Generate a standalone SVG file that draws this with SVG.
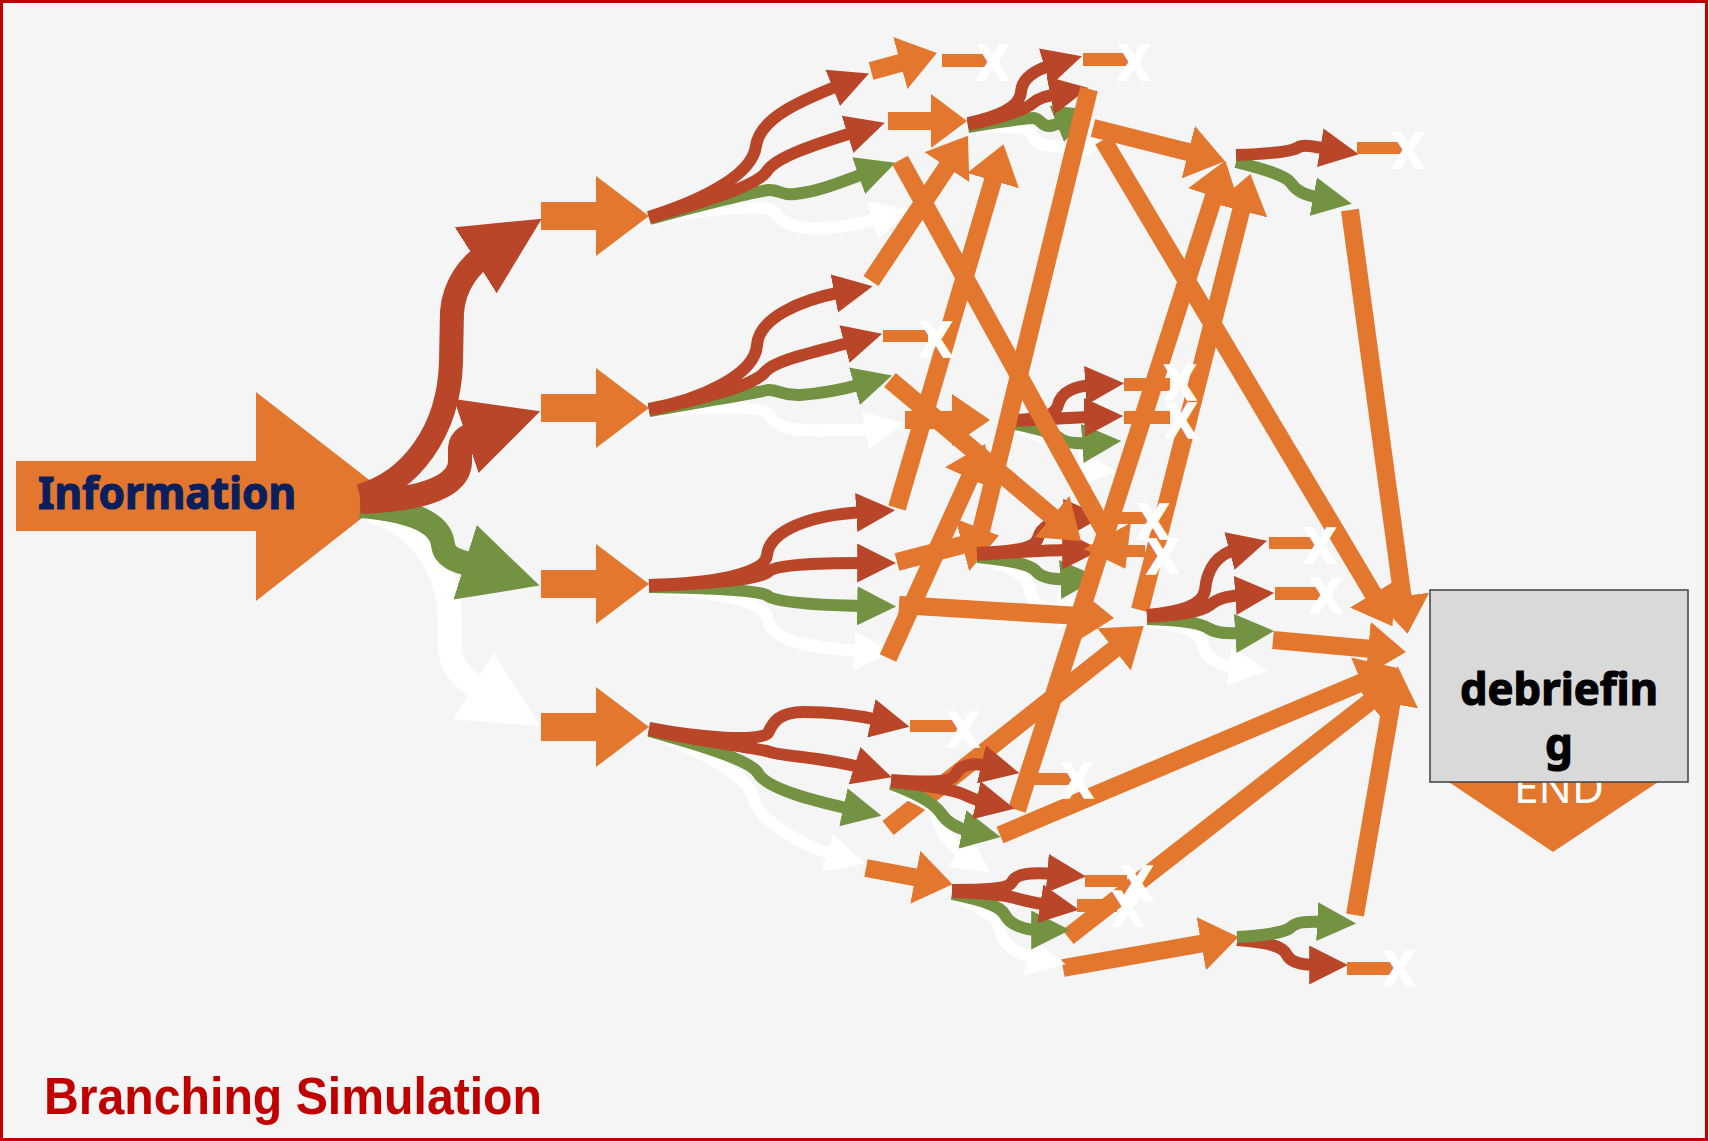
<svg xmlns="http://www.w3.org/2000/svg" width="1709" height="1142" viewBox="0 0 1709 1142">
<defs>
<style>
.o{fill:#E4772E}
.cr,.cg,.cw{fill:none;stroke-linecap:butt;stroke-width:12}
.cr{stroke:#B94628;marker-end:url(#hr)}
.cg{stroke:#739343;marker-end:url(#hg)}
.cw{stroke:#FFFFFF;marker-end:url(#hw)}
.big{stroke-width:24}
.ln{fill:none;stroke:#E4772E;stroke-width:18;marker-end:url(#ho)}
.lnb{fill:none;stroke:#E4772E;stroke-width:18}
.x{font-family:"Noto Sans","DejaVu Sans",sans-serif;font-weight:700;font-size:48px;fill:#FFFFFF;stroke:#FFFFFF;stroke-width:1.5;text-anchor:middle}
</style>
<marker id="hr" viewBox="0 0 10 10" refX="2" refY="5" markerWidth="3.25" markerHeight="3.25" orient="auto" markerUnits="strokeWidth" preserveAspectRatio="none"><path d="M0,0L10,5L0,10z" fill="#B94628"/></marker>
<marker id="hg" viewBox="0 0 10 10" refX="2" refY="5" markerWidth="3.25" markerHeight="3.25" orient="auto" markerUnits="strokeWidth" preserveAspectRatio="none"><path d="M0,0L10,5L0,10z" fill="#739343"/></marker>
<marker id="hw" viewBox="0 0 10 10" refX="2" refY="5" markerWidth="3.25" markerHeight="3.25" orient="auto" markerUnits="strokeWidth" preserveAspectRatio="none"><path d="M0,0L10,5L0,10z" fill="#FFFFFF"/></marker>
<marker id="ho" viewBox="0 0 10 10" refX="1" refY="5" markerWidth="2.1" markerHeight="3" orient="auto" markerUnits="strokeWidth" preserveAspectRatio="none"><path d="M0,0L10,5L0,10z" fill="#E4772E"/></marker>
</defs>

<rect x="0" y="0" width="1709" height="1142" fill="#F5F5F5"/>

<!-- start node -->
<g id="information">
<polygon class="o" points="16,461 256,461 256,392 390,496 256,601 256,531 16,531"/>
<text x="38" y="509" font-family="'Noto Sans','DejaVu Sans',sans-serif" font-weight="700" font-size="44" fill="#0A1F5C" stroke="#0A1F5C" stroke-width="1.2" textLength="258" lengthAdjust="spacingAndGlyphs">Information</text>
</g>

<!-- first-level choice nodes -->
<g id="choice-1"><polygon class="o" points="541,202 596,202 596,176 649,216 596,256 596,230 541,230"/></g>
<g id="choice-2"><polygon class="o" points="541,394 596,394 596,368 649,408 596,448 596,422 541,422"/></g>
<g id="choice-3"><polygon class="o" points="541,570 596,570 596,544 649,584 596,624 596,598 541,598"/></g>
<g id="choice-4"><polygon class="o" points="541,713 596,713 596,687 649,727 596,767 596,741 541,741"/></g>

<!-- branches out of the start node and the first-level nodes -->
<g id="connectors-level1">
<path class="cw big" d="M370,510 C420,525 450,570 450,620 L450,650 C452,672 472,685 487,694"/>
<path class="cg big" d="M360,506 C410,510 441,522 443,545 C445,561 464,562 480,567"/>
<path class="cr big" d="M360,502 C418,500 459,488 460,462 L460,448 C461,438 469,435 481,431"/>
<path class="cr big" d="M360,496 C410,482 449,432 451,362 L452,312 C454,285 470,264 489,252"/>

<path class="cw" d="M650,220 C710,208 765,204 775,212 C784,226 800,230 830,228 C852,226 866,222 880,218"/>
<path class="cg" d="M650,219 C700,205 755,192 768,190 C779,189 781,196 795,194 C822,191 846,180 866,173"/>
<path class="cr" d="M649,218 C700,203 758,186 767,171 C777,156 820,143 855,132"/>
<path class="cr" d="M649,217 C700,201 752,176 756,146 C760,118 800,101 840,85"/>

<path class="cw" d="M650,412 C710,406 765,405 770,415 C775,428 800,432 830,430 C850,429 862,431 873,429"/>
<path class="cg" d="M649,411 C700,402 755,393 768,390 C778,389 781,396 800,395 C830,393 848,388 862,384"/>
<path class="cr" d="M649,410 C700,400 755,385 765,372 C775,360 815,352 852,342"/>
<path class="cr" d="M649,409 C700,400 755,375 757,345 C759,318 800,300 842,292"/>

<path class="cw" d="M649,588 C715,592 765,600 768,620 C772,640 810,648 862,651"/>
<path class="cg" d="M649,587 C710,588 760,590 768,596 C776,602 810,605 865,606"/>
<path class="cr" d="M649,586 C710,584 760,580 768,572 C775,565 810,563 865,563"/>
<path class="cr" d="M649,585 C710,583 765,575 767,555 C770,530 810,515 864,512"/>

<path class="cw" d="M649,732 C700,750 748,775 753,797 C758,820 800,845 835,855"/>
<path class="cg" d="M649,731 C700,745 750,760 758,773 C766,788 810,800 851,809"/>
<path class="cr" d="M649,730 C700,742 760,748 770,752 C780,756 830,758 862,768"/>
<path class="cr" d="M649,728 C700,738 760,742 768,733 C773,722 779,712 804,712 C830,712 856,715 879,720"/>
</g>

<!-- second-level nodes -->
<g id="step-a1"><path class="ln" d="M871,71 L904,62"/></g>
<g id="step-a2"><polygon class="o" points="888,112 931,112 931,94 967,121 931,148 931,130 888,130"/></g>
<g id="step-b2"><polygon class="o" points="905,411 952,411 952,394 990,420 952,446 952,429 905,429"/></g>
<g id="step-c2"><path class="ln" d="M897,562 L966,544"/></g>
<g id="step-d4"><path class="ln" d="M866,868 L919,878"/></g>

<!-- branches out of the second-level nodes -->
<g id="connectors-level2">
<path class="cw" d="M968,128 C1000,126 1025,125 1030,132 C1035,145 1045,148 1075,146"/>
<path class="cg" d="M968,127 C1000,122 1025,118 1033,118 C1041,118 1041,127 1050,126 C1055,125 1059,123 1064,121"/>
<path class="cr" d="M968,125 C1000,118 1025,110 1033,103 C1040,97 1048,96 1058,94"/>
<path class="cr" d="M968,123 C995,117 1020,108 1021,92 C1022,78 1035,70 1052,65"/>

<path class="cw" d="M1006,423 C1035,432 1050,440 1055,450 C1060,462 1072,468 1085,469"/>
<path class="cg" d="M1006,422 C1035,428 1052,432 1058,437 C1064,443 1075,444 1090,443"/>
<path class="cr" d="M1006,421 C1040,420 1060,418 1092,417"/>
<path class="cr" d="M1006,420 C1035,420 1055,418 1058,405 C1061,392 1075,386 1093,385"/>

<path class="cw" d="M977,559 C1010,565 1028,575 1030,590 C1032,605 1045,610 1065,610"/>
<path class="cg" d="M977,557 C1010,560 1030,565 1035,570 C1040,577 1050,580 1068,579"/>
<path class="cr" d="M977,555 C1010,553 1040,550 1070,550"/>
<path class="cr" d="M977,553 C1005,552 1035,550 1038,538 C1041,526 1055,519 1072,518"/>
</g>

<!-- long links between branches -->
<g id="connectors-links">
<path class="lnb" d="M1089,89 L980,535"/>
<path class="ln" d="M1093,128 L1192,153"/>
<path class="ln" d="M1103,140 L1375,597"/>
<path class="ln" d="M900,160 L1109,539"/>
<path class="ln" d="M871,281 L949,164"/>
<path class="ln" d="M897,508 L994,177"/>
<path class="ln" d="M890,380 L1055,519"/>
<path class="ln" d="M888,658 L971,475"/>
<path class="ln" d="M888,828 L1117,647"/>
<path class="ln" d="M1017,810 L1215,193"/>
<path class="ln" d="M1140,610 L1242,207"/>
<path class="ln" d="M1000,835 L1365,681"/>
<path class="ln" d="M1068,937 L1372,700"/>
<path class="ln" d="M1355,915 L1392,700"/>
<path class="ln" d="M1350,210 L1403,600"/>
<path class="ln" d="M1273,640 L1372,649"/>
<path class="ln" d="M899,605 L1080,616"/>
<path class="ln" d="M1063,968 L1205,943"/>
</g>

<!-- branches out of the later nodes -->
<g id="connectors-level3">
<path class="cw" d="M1147,621 C1180,625 1200,630 1203,645 C1206,660 1220,665 1237,667"/>
<path class="cg" d="M1147,619 C1180,620 1200,623 1208,628 C1215,633 1228,634 1243,633"/>
<path class="cr" d="M1147,617 C1180,615 1200,612 1210,605 C1218,598 1228,596 1243,595"/>
<path class="cr" d="M1147,615 C1180,612 1203,605 1205,590 C1207,570 1215,555 1237,549"/>

<path class="cg" d="M1236,162 C1260,168 1285,175 1291,183 C1297,192 1305,195 1321,198"/>
<path class="cr" d="M1236,155 C1265,154 1290,152 1297,148 C1303,144 1310,146 1328,149"/>

<path class="cw" d="M891,786 C915,798 935,805 937,815 C939,830 950,845 965,855"/>
<path class="cg" d="M891,784 C920,795 935,805 940,812 C945,820 955,828 970,831"/>
<path class="cr" d="M891,782 C925,785 950,790 960,793 C968,796 975,800 984,802"/>
<path class="cr" d="M891,780 C920,782 950,784 955,775 C960,765 972,762 989,766"/>

<path class="cw" d="M952,896 C975,905 998,915 1000,930 C1002,945 1020,955 1035,958"/>
<path class="cg" d="M952,894 C980,900 1000,905 1005,915 C1010,925 1025,930 1039,930"/>
<path class="cr" d="M952,892 C985,893 1005,895 1015,898 C1025,901 1035,903 1048,905"/>
<path class="cr" d="M952,890 C985,890 1008,890 1012,882 C1016,874 1030,872 1055,874"/>

<path class="cr" d="M1237,940 C1265,942 1283,945 1287,955 C1291,963 1303,965 1317,965"/>
<path class="cg" d="M1237,937 C1260,936 1283,933 1290,928 C1296,922 1305,921 1325,922"/>
</g>

<!-- dead ends -->
<g id="end-01"><rect class="o" x="942" y="54" width="46" height="13"/><text class="x" x="993" y="80">X</text></g>
<g id="end-02"><rect class="o" x="1083" y="53" width="45" height="13"/><text class="x" x="1134" y="80">X</text></g>
<g id="end-03"><rect class="o" x="883" y="330" width="45" height="12"/><text class="x" x="936" y="357">X</text></g>
<g id="end-04"><rect class="o" x="1124" y="378" width="46" height="13"/><text class="x" x="1180" y="400">X</text></g>
<g id="end-05"><rect class="o" x="1124" y="411" width="46" height="13"/><text class="x" x="1181" y="438">X</text></g>
<g id="end-06"><rect class="o" x="1102" y="512" width="45" height="12"/><text class="x" x="1153" y="539">X</text></g>
<g id="end-07"><rect class="o" x="1100" y="545" width="45" height="12"/><text class="x" x="1163" y="574">X</text></g>
<g id="end-08"><rect class="o" x="1269" y="537" width="47" height="12"/><text class="x" x="1320" y="563">X</text></g>
<g id="end-09"><rect class="o" x="1275" y="587" width="46" height="13"/><text class="x" x="1326" y="613">X</text></g>
<g id="end-10"><rect class="o" x="1357" y="142" width="46" height="12"/><text class="x" x="1408" y="168">X</text></g>
<g id="end-11"><rect class="o" x="910" y="720" width="47" height="12"/><text class="x" x="963" y="747">X</text></g>
<g id="end-12"><rect class="o" x="1020" y="773" width="52" height="12"/><text class="x" x="1077" y="798">X</text></g>
<g id="end-13"><rect class="o" x="1085" y="875" width="42" height="12"/><text class="x" x="1137" y="901">X</text></g>
<g id="end-14"><rect class="o" x="1077" y="899" width="40" height="13"/><text class="x" x="1128" y="926">X</text></g>
<g id="end-15"><rect class="o" x="1347" y="962" width="49" height="13"/><text class="x" x="1399" y="986">X</text></g>

<!-- final node -->
<g id="end-marker">
<polygon class="o" points="1431,770 1676,770 1553,852"/>
<text x="1559" y="803" font-family="'Noto Sans','DejaVu Sans',sans-serif" font-size="44" fill="#FFFFFF" text-anchor="middle">END</text>
</g>
<g id="debriefing">
<rect x="1430" y="590" width="258" height="192" fill="#D9D9D9" stroke="#404040" stroke-width="1.5"/>
<text x="1559" y="705" font-family="'Noto Sans','DejaVu Sans',sans-serif" font-weight="700" font-size="44" fill="#000000" stroke="#000000" stroke-width="1.2" text-anchor="middle" textLength="198" lengthAdjust="spacingAndGlyphs">debriefin</text>
<text x="1559" y="760" font-family="'Noto Sans','DejaVu Sans',sans-serif" font-weight="700" font-size="44" fill="#000000" stroke="#000000" stroke-width="1.2" text-anchor="middle">g</text>
</g>

<g id="title">
<text x="44" y="1114" font-family="'Liberation Sans',Arial,sans-serif" font-weight="700" font-size="52" fill="#C00000" textLength="498" lengthAdjust="spacingAndGlyphs">Branching Simulation</text>
</g>

<rect x="1.5" y="1.5" width="1705" height="1138" fill="none" stroke="#C00000" stroke-width="3"/>
</svg>
